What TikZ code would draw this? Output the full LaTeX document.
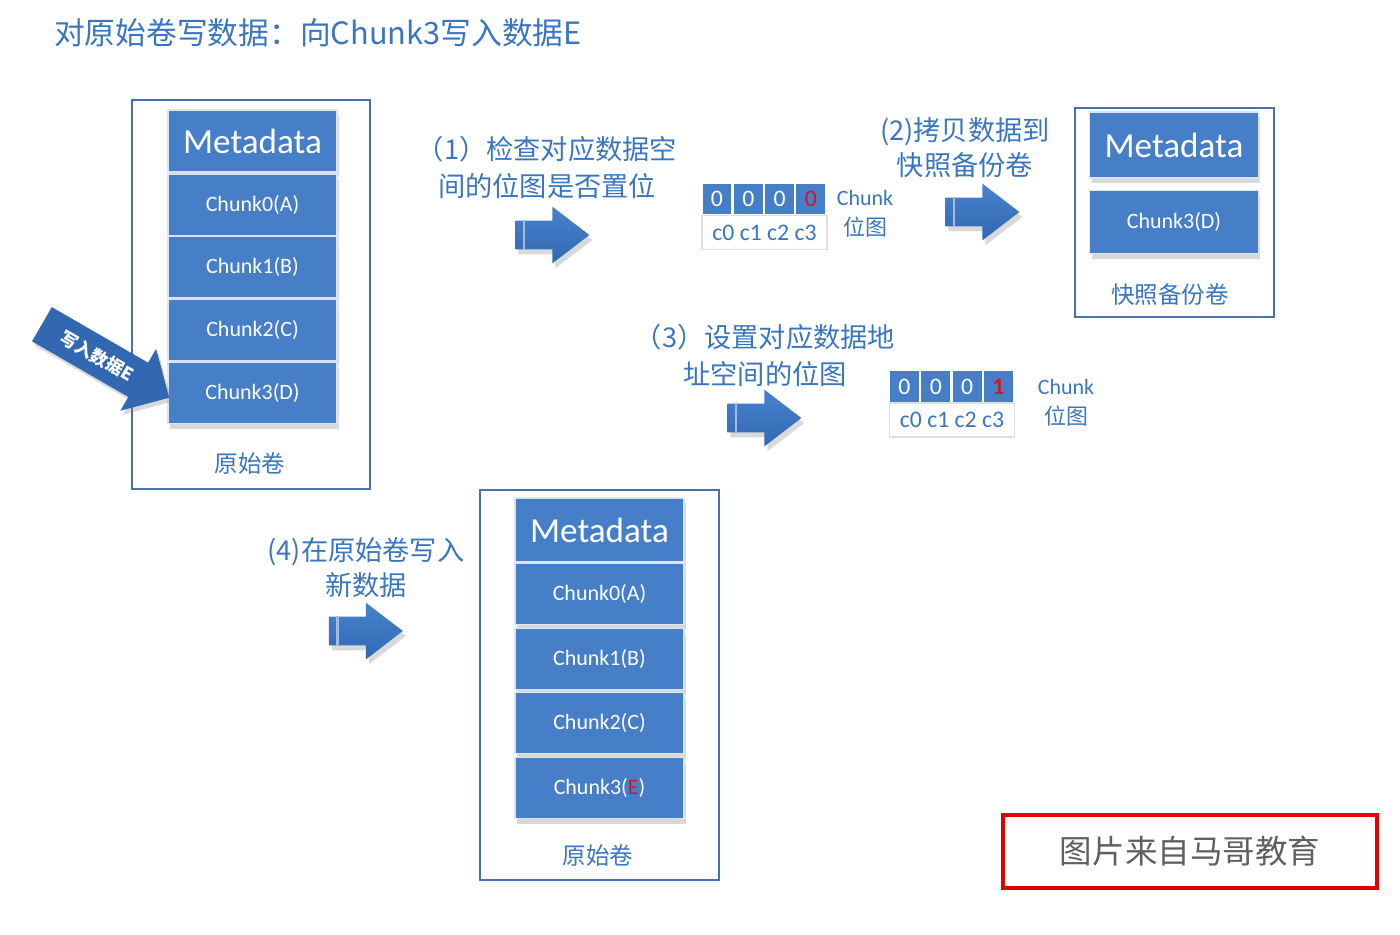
\documentclass[tikz,border=0pt]{standalone}
\usepackage{fontspec}
\setmainfont{Carlito}
\newfontfamily\cjk{Noto Sans CJK SC}
\usepackage{xcolor}
\usepackage{tikz}
\usetikzlibrary{shapes.arrows,shadows,calc}
\definecolor{blkblue}{RGB}{70,127,200}
\definecolor{txtblue}{RGB}{58,118,192}
\definecolor{boxblue}{RGB}{72,112,182}
\definecolor{arrblue}{RGB}{50,104,178}
\definecolor{arrlight}{RGB}{72,130,205}
\definecolor{bitred}{RGB}{205,25,35}
\newcommand{\fs}[1]{\fontsize{#1}{#1}\selectfont}
\newcommand{\metablk}[4]{\node[blk,minimum height=#4,font=\fs{20}] (#1) at (#2,#3) {Metadata};}
\newcommand{\chunkblk}[4]{\node[blk,minimum height=1.22cm,font=\fs{12.5}] (#1) at (#2,#3) {#4};}
\newcommand{\steparrow}[3]{\node[steparr] (#1) at (#2,#3) {};
  \draw[white!55!arrblue,line width=1.2pt] ($(#1.before tail)+(9,0)$) -- ($(#1.after tail)+(9,0)$);}
\newcommand{\steplabel}[4]{\node[font=\cjk\fontsize{15.5}{#4}\selectfont,text=txtblue,align=center] (#1) at (#2) {#3};}

\begin{document}
\begin{tikzpicture}[x=0.02cm,y=-0.02cm,
  blk/.style={fill=blkblue,draw=white!80!blkblue,line width=0.7pt,text=white,inner sep=0pt,
    minimum width=3.38cm,drop shadow={opacity=0.3,shadow xshift=0.04cm,shadow yshift=-0.1cm}},
  volbox/.style={draw=boxblue,line width=1.1pt,fill=white,inner sep=0pt},
  vollabel/.style={font=\cjk\fs{13.4},text=txtblue},
  steparr/.style={single arrow,single arrow head extend=0.28cm,single arrow tip angle=75,
    minimum height=1.48cm,inner xsep=0pt,inner ysep=0.28cm,top color=arrlight,bottom color=arrblue,
    drop shadow={opacity=0.3,shadow xshift=0.06cm,shadow yshift=-0.1cm}},
  bitcell/.style={fill=blkblue,draw=white,line width=1.2pt,minimum width=0.62cm,minimum height=0.66cm,
    inner sep=0pt,font=\fs{13.5}},
  bitrow/.style={fill=white,draw=gray!25,line width=0.6pt,minimum width=2.5cm,minimum height=0.68cm,
    inner sep=0pt,text=txtblue,font=\fs{13.5}},
  bitlabel/.style={text=txtblue,align=center,font=\fontsize{12.5}{17}\selectfont}]
\useasboundingbox (0,0) rectangle (1400,934);

\node[anchor=west,font=\cjk\fs{17.5},text=txtblue] (title) at (48,33) {对原始卷写数据：向Chunk3写入数据E};

\node[volbox,minimum width=4.76cm,minimum height=7.78cm] (orig) at (251,294.5) {};
\metablk{origmeta}{252.5}{141}{1.24cm}
\chunkblk{origA}{252.5}{205}{Chunk0(A)}
\chunkblk{origB}{252.5}{267}{Chunk1(B)}
\chunkblk{origC}{252.5}{330}{Chunk2(C)}
\chunkblk{origD}{252.5}{393}{Chunk3(D)}
\node[vollabel] (origname) at (250,464) {原始卷};

\node[single arrow,fill=arrblue,text=white,font=\cjk\bfseries\fs{10},rotate=-30,
  single arrow head extend=0.32cm,minimum height=2.94cm,inner xsep=2pt,inner ysep=0.22cm,
  drop shadow={opacity=0.3,shadow xshift=0.05cm,shadow yshift=-0.08cm}] (write) at (97,356) {写入数据E};

\steplabel{stepA}{547,167.5}{（1）检查对应数据空\\间的位图是否置位}{21}
\steparrow{arrA}{543}{235}

\foreach \i/\v/\c in {0/0/white,1/0/white,2/0/white,3/0/bitred}
  { \node[bitcell,text=\c] (bmA\i) at ({717+31.3*\i},199) {\v}; }
\node[bitrow] (bmArow) at (764.5,232.5) {c0 c1 c2 c3};
\node[bitlabel] (bmAname) at (865,214) {Chunk\\{\cjk 位图}};

\steplabel{stepB}{965,147.5}{(2)拷贝数据到\\快照备份卷}{20}
\steparrow{arrB}{973}{212}

\node[volbox,minimum width=3.98cm,minimum height=4.18cm] (snap) at (1174.5,212.5) {};
\metablk{snapmeta}{1174}{145}{1.32cm}
\node[blk,minimum height=1.26cm,font=\fs{12.5}] (snapD) at (1174,222) {Chunk3(D)};
\node[vollabel] (snapname) at (1170,295) {快照备份卷};

\steplabel{stepC}{765,355.5}{（3）设置对应数据地\\址空间的位图}{21}
\steparrow{arrC}{755}{418}

\foreach \i/\v/\c in {0/0/white,1/0/white,2/0/white,3/\textbf{1}/bitred}
  { \node[bitcell,text=\c] (bmB\i) at ({904.5+31.3*\i},386.5) {\v}; }
\node[bitrow] (bmBrow) at (952,420) {c0 c1 c2 c3};
\node[bitlabel] (bmBname) at (1066,403) {Chunk\\{\cjk 位图}};

\steplabel{stepD}{366,567.5}{(4)在原始卷写入\\新数据}{20}
\steparrow{arrD}{356.5}{631}

\node[volbox,minimum width=4.78cm,minimum height=7.8cm] (newv) at (599.5,685) {};
\metablk{newmeta}{599.5}{530}{1.28cm}
\chunkblk{newA}{599.5}{594}{Chunk0(A)}
\chunkblk{newB}{599.5}{659}{Chunk1(B)}
\chunkblk{newC}{599.5}{723}{Chunk2(C)}
\chunkblk{newE}{599.5}{788}{Chunk3(\textcolor{bitred}{E})}
\node[vollabel] (newname) at (598,856) {原始卷};

\node[draw=red!90!black,line width=2.3pt,minimum width=7.48cm,minimum height=1.46cm,
  text=gray!75!black,font=\cjk\fs{18.5}] (mark) at (1190,851.5) {图片来自马哥教育};
\end{tikzpicture}
\end{document}
